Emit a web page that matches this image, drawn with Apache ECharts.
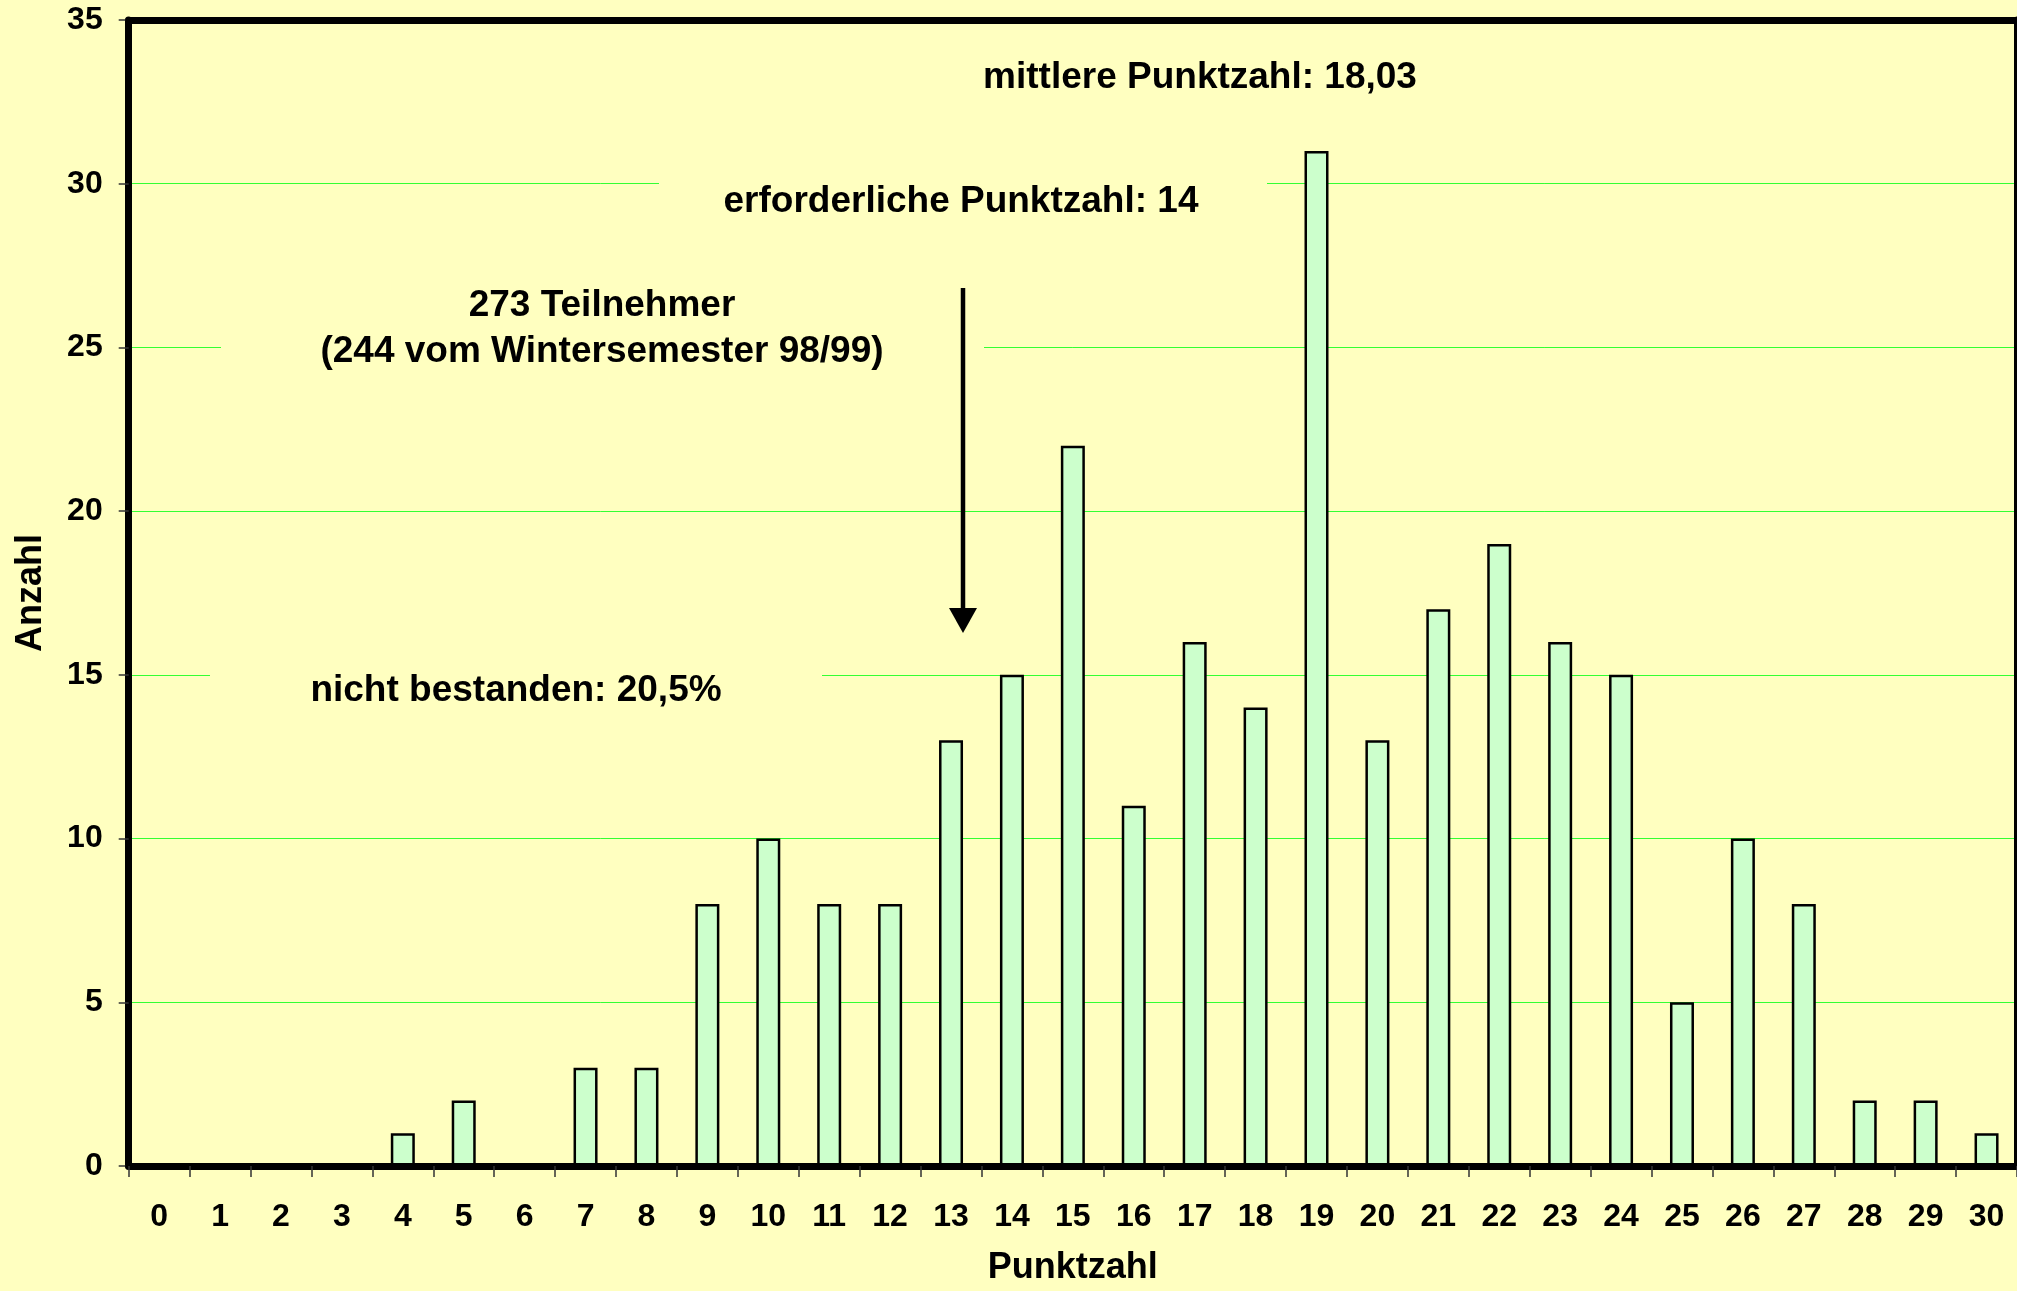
<!DOCTYPE html>
<html>
<head>
<meta charset="utf-8">
<script src="https://cdn.jsdelivr.net/npm/echarts@6/dist/echarts.min.js"></script>
<style>
html,body{margin:0;padding:0;background:#FFFFC0;}
#chart{width:2017px;height:1291px;}
</style>
</head>
<body>
<div id="chart"></div>
<script>
// Data
var categories = ['0','1','2','3','4','5','6','7','8','9','10','11','12','13','14','15','16','17','18','19','20','21','22','23','24','25','26','27','28','29','30'];
var counts = [0,0,0,0,1,2,0,3,3,8,10,8,8,13,15,22,11,16,14,31,13,17,19,16,15,5,10,8,2,2,1];
var yTicks = [0,5,10,15,20,25,30,35];
var xTitle = 'Punktzahl';
var yTitle = 'Anzahl';
var noteMean = 'mittlere Punktzahl: 18,03';
var noteRequired = 'erforderliche Punktzahl: 14';
var noteParticipants1 = '273 Teilnehmer';
var noteParticipants2 = '(244 vom Wintersemester 98/99)';
var noteFailed = 'nicht bestanden: 20,5%';

var FONT = '"Liberation Sans", Arial, sans-serif';
var BG = '#FFFFC0';
var chart = echarts.init(document.getElementById('chart'), null, {renderer:'canvas'});

function txt(t, x, y) {
  return {type:'text', z:5, style:{text:t, x:x, y:y, align:'center', verticalAlign:'middle',
    font:'bold 37px ' + FONT, fill:'#000'}};
}
function box(x, y, w, h) {
  return {type:'rect', z:1, shape:{x:x, y:y, width:w, height:h}, style:{fill:BG}};
}

var option = {
  backgroundColor: BG,
  animation: false,
  grid: {left:128.7, top:20, width:1891, height:1146, show:true, backgroundColor:BG, borderColor:'#000', borderWidth:0},
  xAxis: [{
    type:'category', data:categories, z:3,
    name:xTitle, nameLocation:'middle', nameGap:84,
    nameTextStyle:{fontFamily:FONT, fontWeight:'bold', fontSize:36, color:'#000'},
    axisLine:{show:true, onZero:false, lineStyle:{color:'#000', width:7}},
    axisTick:{show:true, interval:0, length:11, lineStyle:{color:'#333', width:1.5}},
    axisLabel:{interval:0, margin:35, fontFamily:FONT, fontWeight:'bold', fontSize:32, color:'#000'},
    splitLine:{show:false}
  }, {
    type:'category', data:categories, position:'top', z:3,
    axisLine:{show:true, onZero:false, lineStyle:{color:'#000', width:7}},
    axisTick:{show:false}, axisLabel:{show:false}, splitLine:{show:false}
  }],
  yAxis: [{
    type:'value', min:yTicks[0], max:yTicks[yTicks.length-1], interval:5,
    name:yTitle, nameLocation:'middle', nameGap:80, nameRotate:90,
    nameTextStyle:{fontFamily:FONT, fontWeight:'bold', fontSize:36, color:'#000'},
    axisLine:{show:true, onZero:false, lineStyle:{color:'#000', width:7}},
    axisTick:{show:true, length:10, lineStyle:{color:'#333', width:1.5}},
    axisLabel:{margin:26, fontFamily:FONT, fontWeight:'bold', fontSize:32, color:'#000'},
    splitLine:{show:true, lineStyle:{color:'#33FF33', width:1}}
  }, {
    type:'value', min:yTicks[0], max:yTicks[yTicks.length-1], interval:5, position:'right', z:3,
    axisLine:{show:true, onZero:false, lineStyle:{color:'#000', width:7}},
    axisTick:{show:false}, axisLabel:{show:false}, splitLine:{show:false}
  }],
  series: [{
    type:'bar', data:counts, barWidth:24, xAxisIndex:0, yAxisIndex:0,
    itemStyle:{color:'#CCFFCC', borderColor:'#000', borderWidth:2.5}
  }],
  graphic: [
    box(659, 160, 608, 75),
    box(221, 270, 763, 125),
    box(210, 648, 612, 78),
    txt(noteMean, 1200, 78),
    txt(noteRequired, 961, 202),
    txt(noteParticipants1, 602, 306),
    txt(noteParticipants2, 602, 352),
    txt(noteFailed, 516, 691),
    {type:'line', z:5, shape:{x1:963, y1:288, x2:963, y2:612}, style:{stroke:'#000', lineWidth:4.5}},
    {type:'polygon', z:5, shape:{points:[[949,608],[977,608],[963,633]]}, style:{fill:'#000'}}
  ]
};
chart.setOption(option);
</script>
</body>
</html>
